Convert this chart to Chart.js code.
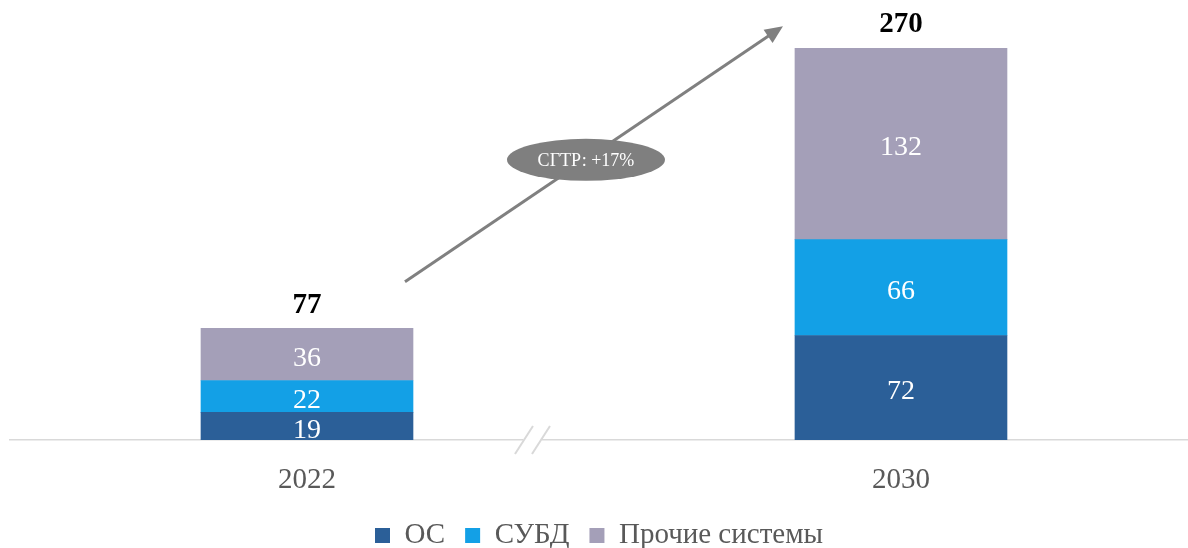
<!DOCTYPE html>
<html>
<head>
<meta charset="utf-8">
<script src="https://cdn.jsdelivr.net/npm/chart.js@4/dist/chart.umd.min.js"></script>
<style>
  html, body { margin: 0; padding: 0; background: #fff; }
  #frame { width: 1188px; height: 548px; overflow: hidden; }
  #wrap { width: 1188px; height: 560px; }
</style>
</head>
<body>
<div id="frame"><div id="wrap"><canvas id="chart"></canvas></div></div>
<script>
// данные
var years = ["2022", "2030"];
var osValues = [19, 72];
var dbmsValues = [22, 66];
var otherValues = [36, 132];
var cagrText = "СГТР: +17%";

var serif = "'Liberation Serif', 'Times New Roman', serif";

function points(arr) {
  return arr.map(function (v, i) { return { x: i, y: v }; });
}

// подписи внутри столбцов и итоги сверху
var labelsPlugin = {
  id: "labels",
  afterDatasetsDraw: function (chart) {
    var ctx = chart.ctx;
    ctx.save();
    ctx.textAlign = "center";
    ctx.textBaseline = "middle";
    chart.data.datasets.forEach(function (ds, di) {
      chart.getDatasetMeta(di).data.forEach(function (bar, i) {
        ctx.fillStyle = "#ffffff";
        ctx.font = "28px " + serif;
        ctx.fillText(ds.data[i].y, bar.x, (bar.y + bar.base) / 2 + 4);
      });
    });
    var last = chart.getDatasetMeta(chart.data.datasets.length - 1);
    years.forEach(function (y, i) {
      var total = osValues[i] + dbmsValues[i] + otherValues[i];
      ctx.fillStyle = "#000000";
      ctx.font = "bold 29px " + serif;
      ctx.fillText(total, last.data[i].x, last.data[i].y - 23);
    });
    ctx.restore();
  }
};

// стрелка, овал СГТР, разрыв оси
var decorPlugin = {
  id: "decor",
  afterDraw: function (chart) {
    var ctx = chart.ctx;
    var xs = chart.scales.x, ys = chart.scales.y;
    var x0 = xs.getPixelForValue(0), x1 = xs.getPixelForValue(1);
    var mid = (x0 + x1) / 2;
    var x1a = x0 + 98, y1a = ys.getPixelForValue(109);
    var x2a = x1 - 118, y2a = ys.getPixelForValue(285);
    ctx.save();
    // стрелка
    ctx.strokeStyle = "#808080";
    ctx.fillStyle = "#808080";
    ctx.lineWidth = 3;
    var ang = Math.atan2(y2a - y1a, x2a - x1a);
    var hl = 18;
    ctx.beginPath();
    ctx.moveTo(x1a, y1a);
    ctx.lineTo(x2a - Math.cos(ang) * hl * 0.8, y2a - Math.sin(ang) * hl * 0.8);
    ctx.stroke();
    ctx.beginPath();
    ctx.moveTo(x2a, y2a);
    ctx.lineTo(x2a - hl * Math.cos(ang) + 8 * Math.sin(ang), y2a - hl * Math.sin(ang) - 8 * Math.cos(ang));
    ctx.lineTo(x2a - hl * Math.cos(ang) - 8 * Math.sin(ang), y2a - hl * Math.sin(ang) + 8 * Math.cos(ang));
    ctx.closePath();
    ctx.fill();
    // овал
    var cx = mid - 18, cy = ys.getPixelForValue(193);
    ctx.beginPath();
    ctx.ellipse(cx, cy, 79, 21, 0, 0, Math.PI * 2);
    ctx.fillStyle = "#7f7f7f";
    ctx.fill();
    ctx.fillStyle = "#ffffff";
    ctx.font = "18px " + serif;
    ctx.textAlign = "center";
    ctx.textBaseline = "middle";
    ctx.fillText(cagrText, cx, cy + 1);
    // разрыв оси
    var by = ys.getPixelForValue(0);
    ctx.fillStyle = "#ffffff";
    ctx.fillRect(mid - 81, by - 2, 19, 4);
    ctx.strokeStyle = "#d9d9d9";
    ctx.lineWidth = 2;
    [mid - 80, mid - 63].forEach(function (px) {
      ctx.beginPath();
      ctx.moveTo(px - 9, by + 14);
      ctx.lineTo(px + 9, by - 14);
      ctx.stroke();
    });
    ctx.restore();
  }
};

var graphData = {
  type: "bar",
  data: {
    datasets: [
      { label: "ОС", data: points(osValues), backgroundColor: "#2b5f98" },
      { label: "СУБД", data: points(dbmsValues), backgroundColor: "#13a0e6" },
      { label: "Прочие системы", data: points(otherValues), backgroundColor: "#a49fb8" }
    ]
  },
  options: {
    responsive: true,
    maintainAspectRatio: false,
    animation: false,
    barThickness: 212,
    layout: { padding: { top: 48, left: 10, right: 0, bottom: 0 } },
    plugins: {
      tooltip: { enabled: false },
      legend: {
        position: "bottom",
        labels: {
          boxWidth: 15,
          boxHeight: 15,
          padding: 20,
          color: "#595959",
          font: { family: serif, size: 29 }
        }
      }
    },
    scales: {
      x: {
        type: "linear",
        stacked: true,
        offset: false,
        min: -0.5,
        max: 1.4832,
        afterBuildTicks: function (axis) {
          axis.ticks = years.map(function (y, i) { return { value: i }; });
        },
        afterFit: function (axis) {
          axis.height = 61;
        },
        grid: { display: false, drawTicks: false },
        border: { color: "#d9d9d9", width: 1.5 },
        ticks: {
          padding: 23,
          color: "#595959",
          font: { family: serif, size: 29 },
          callback: function (v) { return years[v]; }
        }
      },
      y: {
        stacked: true,
        display: false,
        min: 0,
        max: 270
      }
    }
  },
  plugins: [labelsPlugin, decorPlugin]
};

var context = document.getElementById("chart").getContext("2d");
var chart = new Chart(context, graphData);
</script>
</body>
</html>
